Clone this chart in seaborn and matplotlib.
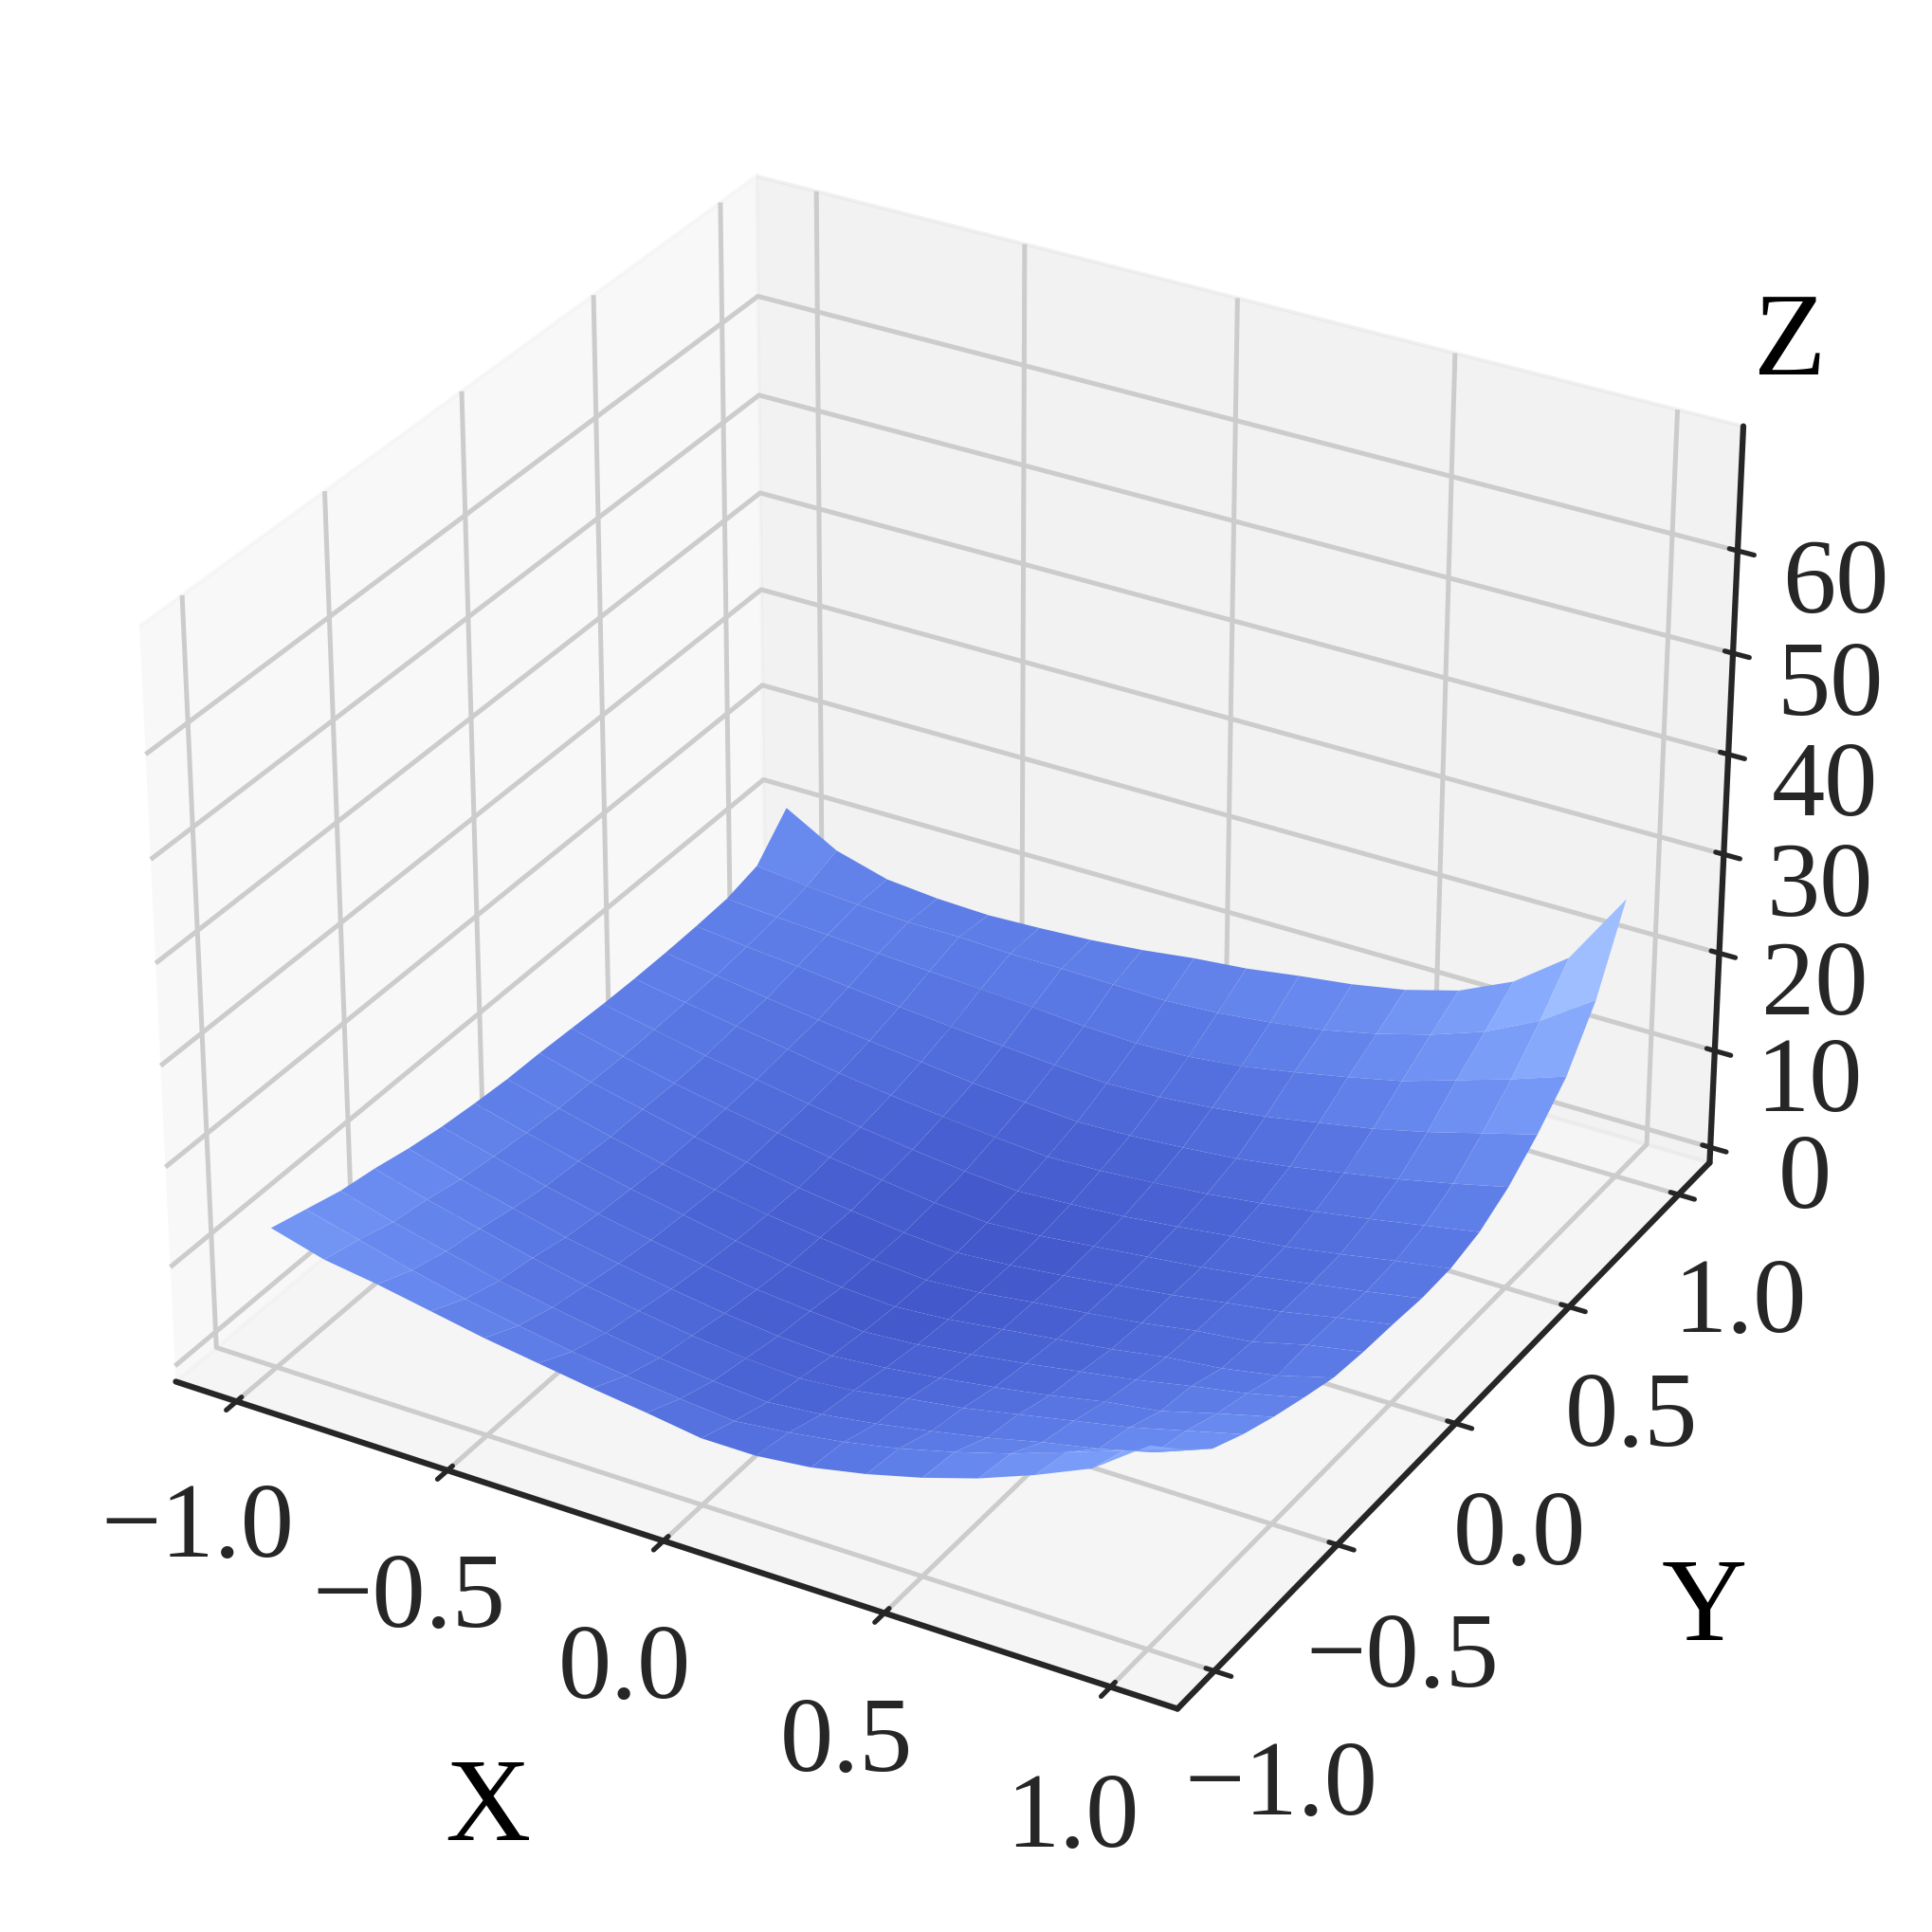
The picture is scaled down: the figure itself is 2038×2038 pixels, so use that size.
import numpy as np
import matplotlib
matplotlib.use("Agg")
import matplotlib.pyplot as plt
import seaborn as sns

sns.set_style("whitegrid")
plt.rcParams['font.family'] = ['Liberation Serif', 'DejaVu Serif']
plt.rcParams['axes.edgecolor'] = '.15'
plt.rcParams['axes.linewidth'] = 1.5
plt.rcParams['grid.linewidth'] = 1.2
plt.rcParams['xtick.major.width'] = 1.25
plt.rcParams['ytick.major.width'] = 1.25

x_values = [-1, -.875, -.75, -.625, -.5, -.375, -.25, -.125, 0, .125, .25, .375, .5, .625, .75, .875, 1]
y_values = [-1, -.875, -.75, -.625, -.5, -.375, -.25, -.125, 0, .125, .25, .375, .5, .625, .75, .875, 1]
z_rows = [
 [12.5,11,10.2,9.2,8.2,7.4,6.6,5.9,5.1,5.1,5.7,6.8,8.2,9.9,12,14.4,18.4],
 [11.5,10.1,8.7,7.5,6.5,5.6,4.9,4.3,3.8,4.4,5.2,6.3,7.7,9.3,11.2,13.1,15],
 [10.5,9,7.7,6.4,5.4,4.5,3.7,3.1,2.7,3.2,4,5,6.1,7.4,8.5,9.9,12],
 [9.9,8.4,7.1,5.8,4.7,3.8,3,2.4,2.1,2.6,3.5,4.3,5.4,6.5,7.6,9,10.4],
 [9.1,7.6,6.3,5,4,3.1,2.3,1.7,1.4,1.9,2.6,3.4,4.3,5.4,6.2,7.7,9.1],
 [8.5,7.1,5.7,4.5,3.5,2.6,1.8,1.3,.9,1.3,2,2.8,3.7,4.6,5.7,6.7,8],
 [8.1,6.7,5.4,4.2,3.2,2.2,1.4,.8,.5,.9,1.6,2.3,3,3.9,4.5,5.5,7],
 [7.8,6.4,5.1,3.9,2.9,2,1.3,.7,.3,.7,1.4,2,2.7,3.6,4.2,5.6,6.6],
 [7.7,6.3,5.1,3.9,2.9,1.9,1.2,.6,.2,.6,1.2,1.9,2.6,3.5,4.3,5.4,6.4],
 [7.5,6.2,5,4,3.1,2.2,1.5,.8,.4,.7,1.3,1.9,2.5,3.3,4.2,5.1,6.1],
 [7.3,6.2,5.1,4.2,3.3,2.5,1.8,1.2,.8,1.1,1.5,2.1,2.8,3.4,4.3,5.3,6.2],
 [7.2,6.3,5.4,4.6,3.7,3,2.4,1.9,1.5,1.7,2.1,2.6,3.3,4.1,5,6,7],
 [7.2,6.4,5.6,4.9,4.3,3.7,3.1,2.7,2.3,2.5,2.9,3.4,4.2,5.2,6.2,7.4,8.7],
 [7.3,6.7,6.2,5.6,5.1,4.6,4.2,3.8,3.5,3.7,4.2,4.9,5.9,6.9,8.2,9.7,11.2],
 [7.5,7.1,6.8,6.4,6.1,5.8,5.5,5.1,4.9,5.1,5.7,6.7,7.8,9,10.7,12.4,14.3],
 [8.3,7.7,7.3,7,7,6.8,6.8,6.7,6.6,6.9,7.5,8.3,9.5,11,12.9,15.6,19.3],
 [11.8,8.8,7.3,6.8,6.6,6.8,7.1,7.6,8.3,8.8,9.6,10.3,11.3,12.8,15.3,19.3,26.8],
]
x_ticks = [-1.0, -0.5, 0.0, 0.5, 1.0]
y_ticks = [-1.0, -0.5, 0.0, 0.5, 1.0]
z_ticks = [0, 10, 20, 30, 40, 50, 60]

X, Y = np.meshgrid(x_values, y_values)
Z = np.array(z_rows)

fig = plt.figure(figsize=(2038/300, 2038/300), dpi=300)
ax = fig.add_axes([0.0213, 0.0573, 0.923, 0.923], projection='3d')
ax.plot_surface(X, Y, Z, cmap='coolwarm', vmin=-1.6, vmax=72, alpha=1.0, linewidth=0, antialiased=True, rstride=1, cstride=1)
ax.set_zlim(-1.6, 72)
ax.set_xticks(x_ticks)
ax.set_yticks(y_ticks)
ax.set_zticks(z_ticks)
ax.tick_params(labelsize=27, pad=7)
ax.text2D(0.2506, 0.0057, 'X', transform=ax.transAxes, fontsize=30, color='black', ha='center', va='center')
ax.text2D(0.9325, 0.1176, 'Y', transform=ax.transAxes, fontsize=30, color='black', ha='center', va='center')
ax.text2D(0.98, 0.8275, 'Z', transform=ax.transAxes, fontsize=30, color='black', ha='center', va='center')
fig.savefig('out.png', dpi=300)
